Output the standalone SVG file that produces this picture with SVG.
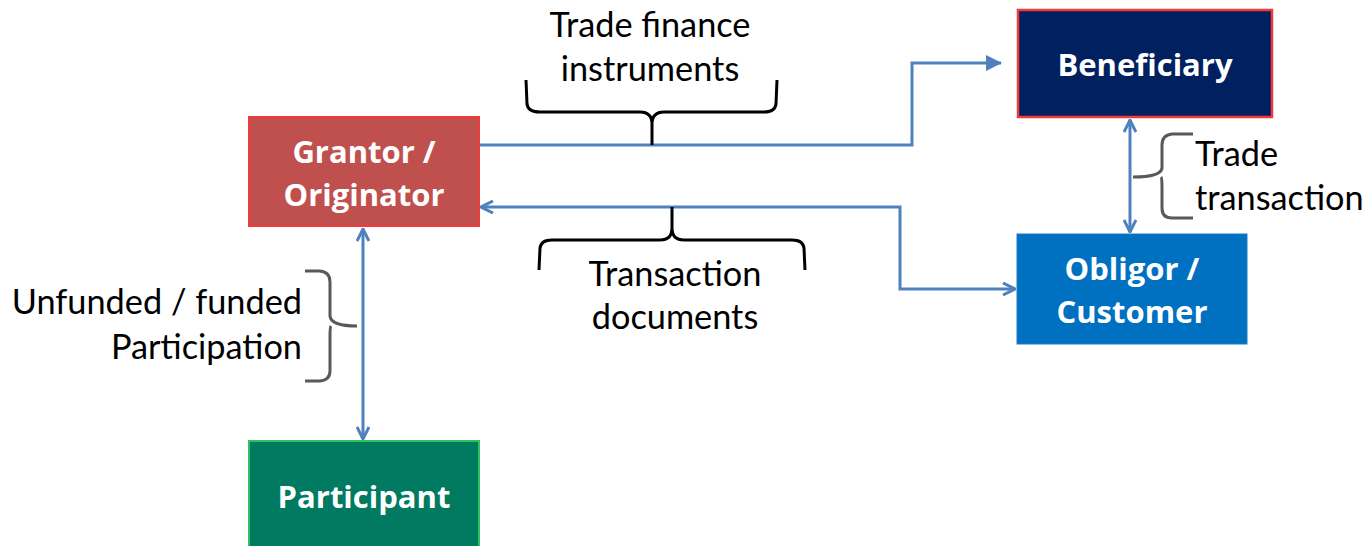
<svg xmlns="http://www.w3.org/2000/svg" width="1366" height="546" viewBox="0 0 1366 546">
<style>
.lbl{font-family:Lato,"Liberation Sans",sans-serif;font-size:34.3px;fill:#000}
.nt{font-family:"Open Sans","Liberation Sans",sans-serif;font-weight:bold;font-size:31px;fill:#fff;text-anchor:middle}
.conn{fill:none;stroke:#4F81BD;stroke-width:3}
.br{fill:none;stroke:#000;stroke-width:3;stroke-linejoin:round}
.gbr{fill:none;stroke:#595959;stroke-width:3;stroke-linejoin:round}
</style>
<defs>
<marker id="open" viewBox="0 0 14 14" refX="13" refY="7" markerWidth="14" markerHeight="14" markerUnits="userSpaceOnUse" orient="auto-start-reverse">
<path d="M1,1 L13,7 L1,13" fill="none" stroke="#4F81BD" stroke-width="3"/>
</marker>
<marker id="fill" viewBox="0 0 16 16" refX="15" refY="8" markerWidth="16" markerHeight="16" markerUnits="userSpaceOnUse" orient="auto">
<path d="M0,0 L16,8 L0,16 Z" fill="#4F81BD"/>
</marker>
</defs>
<rect width="1366" height="546" fill="#fff"/>
<g id="connectors">
<path class="conn" d="M479,145 H912 V63 H1001" marker-end="url(#fill)"/>
<path class="conn" d="M481,207 H900 V289 H1015" marker-start="url(#open)" marker-end="url(#open)"/>
<path class="conn" d="M1130,120 V232" marker-start="url(#open)" marker-end="url(#open)"/>
<path class="conn" d="M363,229 V439" marker-start="url(#open)" marker-end="url(#open)"/>
</g>
<g id="braces">
<path class="br" d="M526,80 L527,104 Q528,112 540,112 L640,112 Q652,112 652,124 L652,145 M652,124 Q652,112 664,112 L764,112 Q775,112 776,104 L777,80"/>
<path class="br" d="M539,270 L540,248 Q541,240 552,240 L660,240 Q672,240 672,228 L672,207 M672,228 Q672,240 684,240 L792,240 Q803,240 804,248 L805,270"/>
<path class="gbr" d="M305,271 L320,271 Q330,272 330,282 L330,316 Q331,326 357,326 M331,326 Q330,327 330,336 L330,371 Q330,380 320,381 L305,381"/>
<path class="gbr" d="M1193,134 L1172,134 Q1162,135 1162,145 L1162,168 Q1161,177 1133,177 M1161,177 Q1162,178 1162,188 L1162,208 Q1162,218 1172,218 L1193,218"/>
</g>
<g id="labels">
<text class="lbl" x="650" y="37" text-anchor="middle">Trade finance</text>
<text class="lbl" x="650" y="81" text-anchor="middle">instruments</text>
<text class="lbl" x="675" y="286" text-anchor="middle">Transaction</text>
<text class="lbl" x="675" y="329" text-anchor="middle">documents</text>
<text class="lbl" x="302" y="314" text-anchor="end">Unfunded / funded</text>
<text class="lbl" x="302" y="359" text-anchor="end">Participation</text>
<text class="lbl" x="1195" y="166">Trade</text>
<text class="lbl" x="1195" y="210">transaction</text>
</g>
<g id="grantor">
<rect x="249" y="117" width="230" height="109" fill="#C0504D" stroke="#F03A3A" stroke-width="2"/>
<text class="nt" x="364" y="163">Grantor /</text>
<text class="nt" x="364" y="206">Originator</text>
</g>
<g id="beneficiary">
<rect x="1018" y="10" width="254" height="107" fill="#002060" stroke="#F03A3A" stroke-width="2.5"/>
<text class="nt" x="1145" y="76">Beneficiary</text>
</g>
<g id="obligor">
<rect x="1017" y="234" width="230" height="110" fill="#0070C0" stroke="#1A7DC8" stroke-width="1"/>
<text class="nt" x="1132" y="280">Obligor /</text>
<text class="nt" x="1132" y="323">Customer</text>
</g>
<g id="participant">
<rect x="249" y="441" width="230" height="120" fill="#007A60" stroke="#2EC35A" stroke-width="2"/>
<text class="nt" x="364" y="508">Participant</text>
</g>
</svg>
